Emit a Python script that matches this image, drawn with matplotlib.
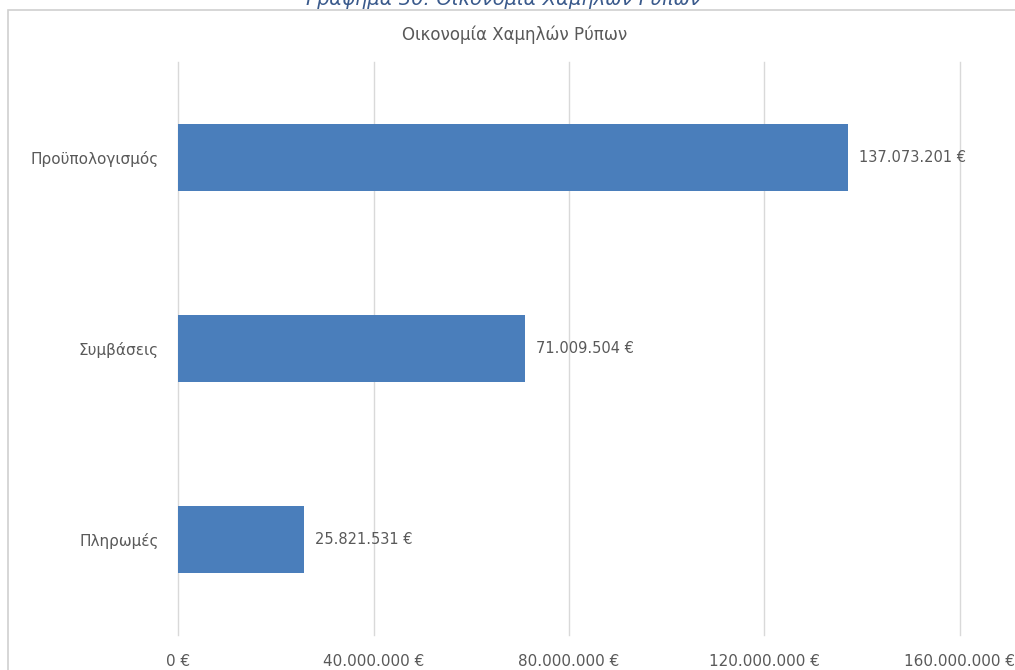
import matplotlib.pyplot as plt
from matplotlib.patches import Rectangle
from matplotlib.ticker import FuncFormatter

categories = ['Πληρωμές', 'Συμβάσεις', 'Προϋπολογισμός']
values = [25821531, 71009504, 137073201]
xticks = [0, 40000000, 80000000, 120000000, 160000000]

bar_color = '#4a7ebb'
text_color = '#595959'


def euro(v, pos=None):
    return f'{int(v):,}'.replace(',', '.') + ' €'


fig = plt.figure(figsize=(10.15, 6.7), dpi=100)
ax = fig.add_axes([0.1754, 0.0522, 0.7704, 0.855])

# Πλαίσιο γραφήματος
fig.patches.append(Rectangle((8 / 1015, -0.1), 1.1, 1 - 10 / 670 + 0.1,
                             transform=fig.transFigure, fill=False,
                             edgecolor='#d0d0d0', linewidth=1.2))

ax.barh(range(len(categories)), values, height=0.35, color=bar_color, zorder=3)
for i, v in enumerate(values):
    ax.annotate(euro(v), (v, i), xytext=(8, 0), textcoords='offset points',
                va='center', ha='left', fontsize=10.5, color=text_color)

ax.set_xlim(0, 160000000)
ax.set_ylim(-0.5, 2.5)
ax.set_xticks(xticks)
ax.xaxis.set_major_formatter(FuncFormatter(euro))
ax.set_yticks(range(len(categories)))
ax.set_yticklabels(categories)
ax.tick_params(axis='both', length=0, labelsize=11, colors=text_color)
ax.tick_params(axis='x', pad=14)
ax.tick_params(axis='y', pad=14)
ax.grid(axis='x', color='#d9d9d9', linewidth=1, zorder=0)
for line in ax.get_xgridlines():
    line.set_clip_on(False)
for s in ax.spines.values():
    s.set_visible(False)

fig.text(515 / 1015, 1 - 35 / 670, 'Οικονομία Χαμηλών Ρύπων', ha='center',
         va='center', fontsize=12, color=text_color)
# λεζάντα που κόβεται στο πάνω άκρο, όπως στο πρωτότυπο
fig.text(503 / 1015, 1 - 5 / 670, 'Γράφημα 30: Οικονομία Χαμηλών Ρύπων',
         ha='center', va='baseline', fontsize=14, style='italic', color='#3a5a8c')

fig.savefig('out.png', dpi=100)
